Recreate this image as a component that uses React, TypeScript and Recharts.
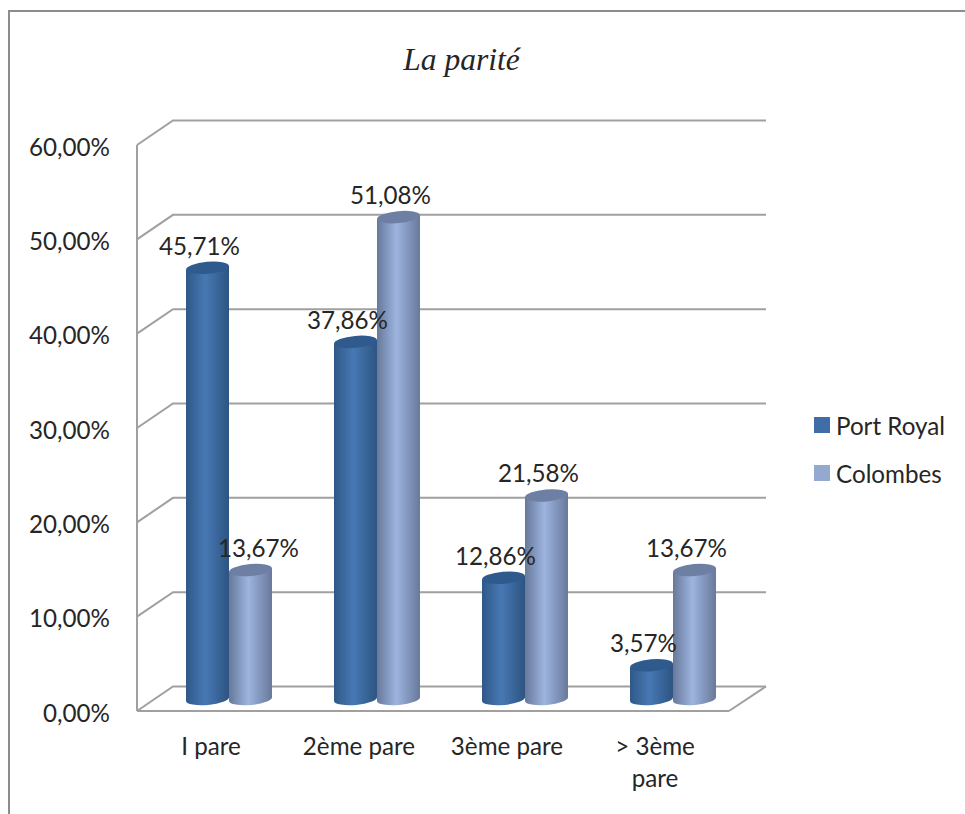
import { BarChart, Bar, XAxis, YAxis, CartesianGrid, LabelList, Legend } from 'recharts';

const categories = ['I pare', '2ème pare', '3ème pare', '> 3ème\npare'];
const portRoyal = [45.71, 37.86, 12.86, 3.57];
const colombes = [13.67, 51.08, 21.58, 13.67];
const yTicks = [0, 10, 20, 30, 40, 50, 60];

const data = categories.map((name, i) => ({
  name,
  portRoyal: portRoyal[i],
  colombes: colombes[i],
}));

const FONT = 'Lato, sans-serif';
const FONT_SIZE = 24.2;
const TEXT = '#262626';
const GRID = '#a0a0a0';
const DEPTH_X = 36;
const DEPTH_Y = 24.5;
const FLOOR_Y = 711;

const fmt = (v: number) => `${v.toFixed(2).replace('.', ',')}%`;

// 3D walls: each gridline runs up the left wall then along the back wall
function GridLine(props: any) {
  const { x1, x2, y1 } = props;
  return (
    <g key={props.key} fill="none" stroke={GRID} strokeWidth={2}>
      <path d={`M${x1} ${y1}L${x1 + DEPTH_X} ${y1 - DEPTH_Y}L${x2 + DEPTH_X + 1} ${y1 - DEPTH_Y}`} />
      {y1 === FLOOR_Y && <path d={`M${x2} ${y1}L${x2 + DEPTH_X + 1} ${y1 - DEPTH_Y}`} />}
    </g>
  );
}

function Cylinder(props: any) {
  const { x, y, width, height, side, top } = props;
  const rx = width / 2;
  const ry = 6;
  const tilt = 0.09;
  const cx = x + rx + DEPTH_X / 2;
  const yTop = y - 12;
  const yBottom = y + height - 12;
  const d = `M${cx - rx} ${yTop + rx * tilt}
    L${cx - rx} ${yBottom + rx * tilt}
    A${rx} ${ry} -5 0 0 ${cx + rx} ${yBottom - rx * tilt}
    L${cx + rx} ${yTop - rx * tilt}Z`;
  return (
    <g>
      <path d={d} fill={`url(#${side})`} />
      <ellipse cx={cx} cy={yTop} rx={rx} ry={ry} fill={top} transform={`rotate(-5 ${cx} ${yTop})`} />
    </g>
  );
}

function BarValue(props: any) {
  const { x, y, width, value, index, series } = props;
  // Excel pushed this one label to the right of its neighbour
  const shift = series === 'colombes' && index === 0 ? 26 : 10;
  return (
    <text x={x + width / 2 + shift} y={y - 25} textAnchor="middle" fontFamily={FONT} fontSize={FONT_SIZE} fill={TEXT}>
      {fmt(value)}
    </text>
  );
}

function CategoryTick(props: any) {
  const { x, y, payload } = props;
  return (
    <text x={x} y={y} textAnchor="middle" fontFamily={FONT} fontSize={FONT_SIZE} fill={TEXT}>
      {String(payload.value).split('\n').map((line: string, i: number) => (
        <tspan key={i} x={x} dy={i === 0 ? 0 : 32}>{line}</tspan>
      ))}
    </text>
  );
}

function LegendBox({ payload }: any) {
  const items = (payload ?? []).filter((item: any) => item.type !== 'none');
  return (
    <div>
      {items.map((item: any) => (
        <div key={item.value} style={{ display: 'flex', alignItems: 'center', height: 48, fontFamily: FONT, fontSize: FONT_SIZE, color: TEXT }}>
          <span style={{ width: 16, height: 16, background: item.color, marginRight: 6 }} />
          {item.value}
        </div>
      ))}
    </div>
  );
}

export default function App() {
  return (
    <div style={{ position: 'absolute', left: 0, top: 0, width: 965, height: 814, overflow: 'hidden', background: '#fff' }}>
      <div style={{ position: 'absolute', left: 8, top: 10, width: 1000, height: 900, border: '2px solid #8c8c8c' }} />
      <div style={{ position: 'absolute', left: 0, top: 42, width: 923, textAlign: 'center', fontFamily: '"Liberation Serif", serif', fontStyle: 'italic', fontSize: 31.5, color: TEXT }}>
        La parité
      </div>
      <BarChart
        width={965}
        height={814}
        data={data}
        barSize={43}
        barGap={0}
        margin={{ top: 145, right: 86, bottom: 0, left: 0 }}
        style={{ position: 'absolute', left: 0, top: 0 }}
      >
        <defs>
          <linearGradient id="sideDark" x1="0" y1="0" x2="1" y2="0">
            <stop offset="0" stopColor="#2f5888" />
            <stop offset="0.45" stopColor="#4778b3" />
            <stop offset="1" stopColor="#2d5482" />
          </linearGradient>
          <linearGradient id="sideLight" x1="0" y1="0" x2="1" y2="0">
            <stop offset="0" stopColor="#67799a" />
            <stop offset="0.45" stopColor="#9db4df" />
            <stop offset="1" stopColor="#68799a" />
          </linearGradient>
        </defs>
        <CartesianGrid vertical={false} horizontal={GridLine} />
        <XAxis
          dataKey="name"
          height={103}
          axisLine={{ stroke: GRID, strokeWidth: 2 }}
          tickLine={false}
          tickMargin={38}
          tick={<CategoryTick />}
          interval={0}
        />
        <XAxis xAxisId="labels" dataKey="name" hide />
        <YAxis
          width={137}
          domain={[0, 60]}
          ticks={yTicks}
          tickFormatter={fmt}
          axisLine={{ stroke: GRID, strokeWidth: 2 }}
          tickLine={false}
          tickMargin={21}
          tick={{ fontFamily: FONT, fontSize: FONT_SIZE, fill: TEXT, dy: 2 }}
        />
        <Legend
          layout="vertical"
          align="right"
          verticalAlign="middle"
          width={150}
          itemSorter={null}
          content={<LegendBox />}
          wrapperStyle={{ position: 'absolute', left: 814, top: 401, width: 150 }}
        />
        <Bar dataKey="portRoyal" name="Port Royal" fill="#3f6ea6" isAnimationActive={false}
          shape={(p: any) => <Cylinder {...p} side="sideDark" top="#2f5a8e" />} />
        <Bar dataKey="colombes" name="Colombes" fill="#94a9d2" isAnimationActive={false}
          shape={(p: any) => <Cylinder {...p} side="sideLight" top="#6d7fa3" />} />
        {/* second pass on a hidden axis so the values sit above all the cylinders */}
        <Bar xAxisId="labels" dataKey="portRoyal" fill="none" legendType="none" isAnimationActive={false}>
          <LabelList dataKey="portRoyal" content={(p: any) => <BarValue {...p} series="portRoyal" />} />
        </Bar>
        <Bar xAxisId="labels" dataKey="colombes" fill="none" legendType="none" isAnimationActive={false}>
          <LabelList dataKey="colombes" content={(p: any) => <BarValue {...p} series="colombes" />} />
        </Bar>
      </BarChart>
    </div>
  );
}
